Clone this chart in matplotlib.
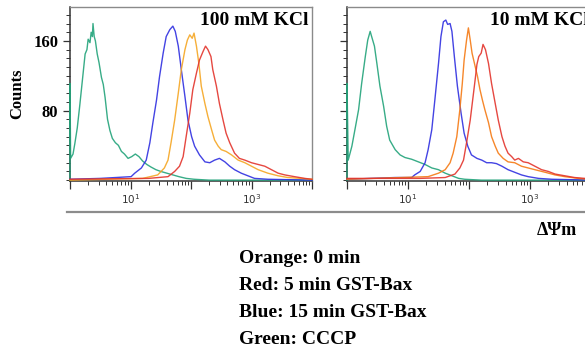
import numpy as np
import matplotlib
matplotlib.use("Agg")
import matplotlib.pyplot as plt
from matplotlib.lines import Line2D
from matplotlib.ticker import FixedLocator, FixedFormatter, LogLocator, NullFormatter, MultipleLocator

# histogram traces: x = log10(fluorescence), y = counts
# ---- 100 mM KCl ----
g100_x = [0.0, 0.0, 0.01, 0.05, 0.08, 0.12, 0.16, 0.19, 0.22, 0.25, 0.28, 0.30, 0.33, 0.35, 0.37,
          0.38, 0.40, 0.42, 0.45, 0.48, 0.52, 0.55, 0.58, 0.62, 0.66, 0.70, 0.75, 0.80, 0.85, 0.90,
          0.96, 1.02, 1.08, 1.14, 1.20, 1.27, 1.34, 1.42, 1.50, 1.60, 1.70, 1.80, 1.92, 2.05, 2.30, 4.0]
g100_y = [0, 111, 25, 30, 42, 60, 85, 105, 125, 145, 150, 162, 158, 170, 165,
          180, 165, 160, 145, 135, 118, 110, 95, 70, 57, 48, 43, 40, 33, 30,
          25, 27, 30, 27, 22, 18, 15, 12, 10, 8, 6, 4, 2, 1, 0, 0]

b100_x = [0.0, 0.5, 1.01, 1.07, 1.18, 1.26, 1.32, 1.37, 1.43, 1.48, 1.54, 1.59, 1.65, 1.70, 1.74,
          1.79, 1.84, 1.90, 1.95, 2.01, 2.06, 2.14, 2.23, 2.31, 2.39, 2.47, 2.56, 2.64, 2.72, 2.83,
          2.94, 3.05, 3.27, 4.0]
b100_y = [1, 2, 4, 8, 14, 23, 43, 66, 92, 119, 146, 165, 173, 177, 171,
          154, 127, 96, 69, 50, 39, 29, 21, 20, 23, 25, 21, 16, 12, 8,
          5, 2, 1, 0]

o100_x = [0.0, 1.2, 1.45, 1.56, 1.62, 1.67, 1.73, 1.79, 1.84, 1.90, 1.94, 1.98, 2.02, 2.05, 2.09,
          2.13, 2.17, 2.23, 2.28, 2.34, 2.39, 2.45, 2.50, 2.58, 2.67, 2.78, 2.89, 3.00, 3.11, 3.27,
          3.44, 3.60, 3.82, 4.0]
o100_y = [0, 2, 6, 14, 23, 43, 69, 100, 127, 150, 161, 167, 163, 169, 154,
          134, 108, 88, 73, 58, 46, 39, 35, 33, 29, 23, 20, 16, 12, 8,
          5, 3, 2, 1]

r100_x = [0.0, 1.3, 1.62, 1.73, 1.81, 1.87, 1.92, 1.98, 2.03, 2.09, 2.14, 2.20, 2.24, 2.28, 2.33,
          2.36, 2.42, 2.47, 2.53, 2.58, 2.64, 2.72, 2.80, 2.89, 3.00, 3.11, 3.22, 3.33, 3.44, 3.55,
          3.71, 3.88, 4.0]
r100_y = [1, 2, 4, 10, 16, 27, 50, 77, 104, 123, 138, 148, 154, 150, 142,
          127, 108, 88, 69, 54, 43, 31, 25, 23, 20, 18, 16, 12, 8, 6,
          4, 2, 1]

# ---- 10 mM KCl ----
g10_x = [0.0, 0.0, 0.02, 0.08, 0.13, 0.19, 0.24, 0.30, 0.34, 0.38, 0.40, 0.45, 0.49, 0.54, 0.60,
         0.65, 0.70, 0.79, 0.87, 0.95, 1.06, 1.17, 1.28, 1.39, 1.50, 1.61, 1.72, 1.83, 1.93, 2.2, 4.0]
g10_y = [0, 111, 23, 39, 58, 81, 111, 142, 161, 171, 166, 154, 134, 108, 85,
         62, 46, 35, 29, 26, 24, 21, 18, 14, 12, 8, 5, 2, 1, 0, 0]

b10_x = [0.0, 0.79, 1.06, 1.11, 1.20, 1.28, 1.33, 1.39, 1.44, 1.50, 1.54, 1.58, 1.62, 1.65, 1.69,
         1.72, 1.76, 1.81, 1.87, 1.92, 1.98, 2.04, 2.13, 2.21, 2.29, 2.37, 2.45, 2.54, 2.64, 2.75,
         2.86, 2.97, 3.14, 3.36, 4.0]
b10_y = [1, 3, 3, 6, 10, 20, 35, 58, 92, 134, 165, 182, 184, 179, 180,
         171, 142, 108, 77, 54, 39, 29, 25, 23, 20, 20, 19, 16, 12, 9,
         6, 4, 2, 1, 0]

o10_x = [0.0, 1.33, 1.50, 1.61, 1.69, 1.74, 1.80, 1.85, 1.89, 1.92, 1.96, 1.99, 2.02, 2.05, 2.10,
         2.14, 2.18, 2.22, 2.26, 2.32, 2.37, 2.43, 2.48, 2.56, 2.64, 2.75, 2.86, 2.97, 3.08, 3.25,
         3.41, 3.57, 3.79, 3.96]
o10_y = [1, 4, 8, 12, 20, 31, 50, 81, 111, 138, 161, 175, 161, 146, 131,
         119, 104, 92, 81, 66, 50, 39, 31, 25, 21, 20, 16, 14, 12, 9,
         6, 4, 2, 1]

r10_x = [0.0, 1.2, 1.61, 1.77, 1.85, 1.91, 1.96, 2.02, 2.06, 2.10, 2.13, 2.16, 2.20, 2.23, 2.27,
         2.32, 2.37, 2.43, 2.48, 2.54, 2.59, 2.64, 2.70, 2.75, 2.81, 2.89, 2.97, 3.08, 3.19, 3.30,
         3.41, 3.57, 3.73, 3.90, 4.0]
r10_y = [2, 2, 3, 7, 14, 23, 43, 69, 92, 115, 133, 142, 146, 156, 150,
         134, 111, 88, 69, 50, 39, 31, 27, 23, 25, 21, 20, 16, 12, 10,
         7, 5, 3, 2, 1]

panel_titles = ["100 mM KCl", "10 mM KCl"]
legend_lines = ["Orange: 0 min", "Red: 5 min GST-Bax", "Blue: 15 min GST-Bax", "Green: CCCP"]

serif = ["Liberation Serif", "DejaVu Serif"]

W, H = 585, 354
fig = plt.figure(figsize=(W / 100, H / 100), dpi=100)


def px_axes(x0, y0, x1, y1):
    # pixel box (top-left origin) -> figure axes
    return fig.add_axes([x0 / W, 1 - y1 / H, (x1 - x0) / W, (y1 - y0) / H])


def style_axes(ax, show_ylabels):
    ax.set_xscale("log")
    ax.set_xlim(1, 1e4)
    ax.set_ylim(-1, 199)
    ax.xaxis.set_major_locator(FixedLocator([1, 10, 100, 1000, 10000]))
    ax.xaxis.set_major_formatter(FixedFormatter(["", r"$10^1$", "", r"$10^3$", ""]))
    ax.xaxis.set_minor_locator(LogLocator(base=10, subs=np.arange(2, 10)))
    ax.xaxis.set_minor_formatter(NullFormatter())
    ax.yaxis.set_major_locator(FixedLocator([80, 160]))
    ax.yaxis.set_minor_locator(MultipleLocator(10))
    ax.tick_params(axis="x", which="major", length=6, width=0.9, pad=2,
                   labelsize=7.5, labelcolor="#333333", color="#333333")
    ax.tick_params(axis="x", which="minor", length=3, width=0.7, color="#333333")
    ax.tick_params(axis="y", which="major", length=5, width=0.9, color="#333333")
    ax.tick_params(axis="y", which="minor", length=3, width=0.7, color="#333333")
    if show_ylabels:
        ax.set_yticklabels(["80", "160"], fontfamily=serif, fontweight="bold", fontsize=12)
    else:
        ax.set_yticklabels([])
    for s in ["left", "bottom"]:
        ax.spines[s].set_color("#333333")
        ax.spines[s].set_linewidth(1.1)
    for s in ["top", "right"]:
        ax.spines[s].set_color("#8a8a8a")
        ax.spines[s].set_linewidth(1.0)


def draw(ax, traces):
    # lines above the spines so the first-channel pile-up on the left edge shows
    for xs, ys, c in traces:
        ax.plot(10 ** np.array(xs), ys, color=c, lw=1.0, alpha=0.9, zorder=3, clip_on=False)


green = "#22a37a"
blue = "#2f2fe0"
orange_l = "#f5a623"
orange_r = "#f57a14"
red = "#e3342c"

ax1 = px_axes(70, 7, 312, 181)
style_axes(ax1, True)
draw(ax1, [(g100_x, g100_y, green), (b100_x, b100_y, blue),
           (o100_x, o100_y, orange_l), (r100_x, r100_y, red)])
ax1.set_ylabel("Counts", fontfamily=serif, fontweight="bold", fontsize=12, labelpad=6)
ax1.text(0.985, 0.895, panel_titles[0], transform=ax1.transAxes, ha="right", va="baseline",
         fontfamily=serif, fontweight="bold", fontsize=14)

ax2 = px_axes(347, 7, 591, 181)
style_axes(ax2, False)
draw(ax2, [(g10_x, g10_y, green), (b10_x, b10_y, blue),
           (o10_x, o10_y, orange_r), (r10_x, r10_y, red)])
ax2.text((490 - 347) / 244, 0.895, panel_titles[1], transform=ax2.transAxes, ha="left",
         va="baseline", fontfamily=serif, fontweight="bold", fontsize=14)

# separator line and axis name below the panels
fig.add_artist(Line2D([67 / W, 1.0], [1 - 211.5 / H, 1 - 211.5 / H], color="#8c8c8c", lw=1.6))
fig.text(537 / W, 1 - 235 / H, "ΔΨm", ha="left", va="baseline",
         fontfamily=serif, fontweight="bold", fontsize=13)

for i, line in enumerate(legend_lines):
    fig.text(239 / W, 1 - (263.3 + 26.8 * i) / H, line, ha="left", va="baseline",
             fontfamily=serif, fontweight="bold", fontsize=14)

fig.savefig("out.png", dpi=100)
